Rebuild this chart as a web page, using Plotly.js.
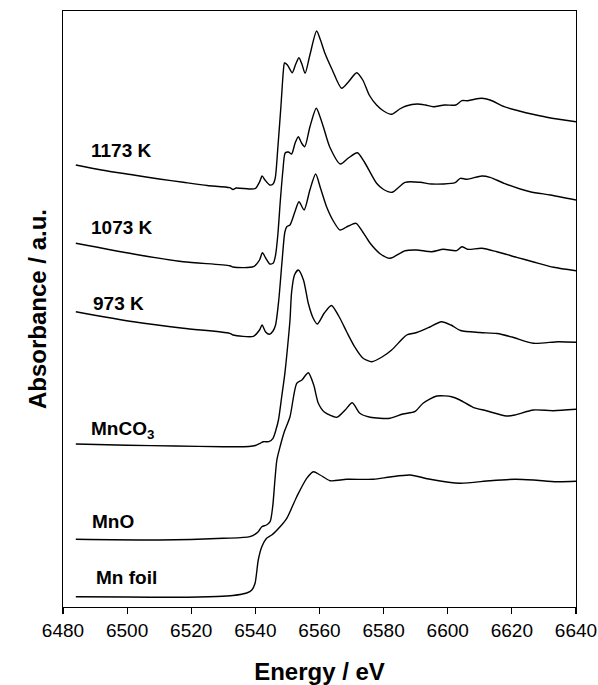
<!DOCTYPE html>
<html>
<head>
<meta charset="utf-8">
<script src="https://cdn.plot.ly/plotly-3.0.1.min.js"></script>
<style>html,body{margin:0;padding:0;background:#fff;}#chart{width:598px;height:685px;}</style>
</head>
<body>
<div id="chart"></div>
<script>
// Energies (eV) and normalized absorbance (a.u., stacked with offsets)
const e1173 = [6484,6492,6502,6510,6517.5,6525,6532,6533,6534,6538,6540,6541.3,6542.1,6543,6544.5,6545.5,6546.2,6547,6548,6548.7,6549.1,6550,6551.5,6552.6,6553.6,6554.6,6555.5,6557,6559.1,6560.3,6561.7,6564,6566.9,6569,6571.6,6573.5,6575.5,6577.8,6580,6582.5,6585,6587,6590.5,6593,6595.5,6599,6602.5,6604.4,6606.2,6608,6610.6,6613.2,6617.6,6622,6626.5,6632.5,6640];
const a1173 = [4.42,4.37,4.32,4.28,4.247,4.215,4.193,4.175,4.19,4.18,4.185,4.25,4.31,4.27,4.22,4.23,4.29,4.59,5.02,5.35,5.44,5.42,5.343,5.43,5.493,5.42,5.337,5.52,5.76,5.67,5.537,5.37,5.187,5.25,5.343,5.27,5.12,5.02,4.96,4.927,4.98,5.01,5.03,5.02,5.003,5.02,5.02,5.063,5.063,5.075,5.087,5.07,5.003,4.963,4.927,4.887,4.853];

const e1073 = [6484,6502,6517.5,6532,6533,6539.4,6541.3,6542.2,6543.2,6544.5,6545.6,6546.3,6547,6547.8,6548.6,6549.3,6550.3,6551.3,6552.4,6553.4,6554.4,6555.4,6557,6559,6560.3,6561.5,6563.2,6566.5,6569,6571.8,6574,6577.8,6580,6582.6,6586.7,6591.4,6595,6602.3,6603.9,6606,6610.6,6613.2,6617.6,6625.7,6632,6640];
const a1073 = [3.637,3.53,3.453,3.413,3.40,3.403,3.47,3.543,3.49,3.43,3.44,3.52,3.72,4.07,4.37,4.54,4.55,4.53,4.64,4.703,4.64,4.603,4.80,4.987,4.89,4.77,4.60,4.43,4.49,4.543,4.45,4.237,4.175,4.147,4.247,4.247,4.23,4.243,4.287,4.277,4.31,4.297,4.237,4.153,4.12,4.07];

const e973 = [6484,6502,6517.5,6532,6533,6539.4,6541.3,6542.1,6543.2,6544.4,6545.5,6546.3,6547.3,6548.3,6549.2,6549.8,6550.8,6552.3,6553.6,6555.2,6557,6558.8,6560.3,6562.2,6564.5,6566.4,6569,6571.4,6573.5,6575.8,6579,6582,6586.7,6590.3,6595,6598.6,6602.8,6604.4,6606.2,6610.6,6615.3,6621.5,6626.5,6633,6640];
const a973 = [2.953,2.853,2.787,2.737,2.72,2.707,2.77,2.82,2.75,2.727,2.76,2.82,3.07,3.45,3.75,3.803,3.82,3.95,4.053,3.97,4.17,4.33,4.19,4.003,3.85,3.77,3.81,3.837,3.75,3.637,3.53,3.487,3.563,3.57,3.553,3.577,3.563,3.603,3.577,3.587,3.553,3.497,3.453,3.397,3.363];

const eMnCO3 = [6484,6500,6515,6530,6538,6540,6541.5,6542.5,6544.2,6545.5,6546.4,6547.2,6548.2,6549.2,6550.1,6550.8,6551.3,6552.2,6553.4,6555,6556.5,6558,6559.3,6561.5,6563.7,6566,6568.5,6571,6573.5,6576.3,6579.5,6582.5,6585.5,6587.2,6590.3,6594.4,6598,6601,6604,6610,6615.4,6620,6626.7,6634.5,6640];
const aMnCO3 = [1.63,1.617,1.61,1.603,1.605,1.615,1.637,1.653,1.653,1.687,1.77,1.87,2.10,2.337,2.62,2.87,3.15,3.32,3.37,3.27,3.037,2.89,2.83,2.94,3.015,2.91,2.75,2.60,2.49,2.453,2.50,2.57,2.67,2.72,2.745,2.80,2.853,2.82,2.765,2.745,2.735,2.70,2.637,2.653,2.647];

const eMnO = [6484,6510,6530,6538.3,6540.9,6542,6543.5,6544.6,6545.4,6546.1,6546.7,6547.7,6549,6550.8,6552.9,6554.5,6556.5,6558.2,6559.6,6561.5,6565.4,6568,6570.2,6572.6,6575.8,6582,6586,6589.7,6592.3,6596.6,6601.2,6603.8,6607.9,6612,6618.3,6620.9,6626.7,6632.9,6640];
const aMnO = [0.677,0.67,0.687,0.703,0.753,0.803,0.82,0.853,1.003,1.27,1.47,1.603,1.75,1.903,2.237,2.27,2.343,2.22,2.04,1.95,1.897,1.97,2.043,1.937,1.897,1.887,1.93,1.953,2.037,2.11,2.103,2.07,1.997,1.963,1.91,1.92,1.97,1.963,1.977];

const eMn = [6484,6500,6515,6528,6533,6537.3,6538.9,6539.9,6540.9,6542,6543.5,6545.1,6547.7,6549.8,6552.9,6556,6558.1,6560.2,6563.3,6568.5,6576.8,6582,6588.2,6594.5,6603.8,6613.2,6621,6626.7,6634,6640];
const aMn = [0.103,0.10,0.097,0.105,0.115,0.14,0.17,0.237,0.47,0.603,0.687,0.72,0.803,0.887,1.103,1.287,1.353,1.32,1.263,1.277,1.277,1.30,1.32,1.277,1.237,1.263,1.277,1.27,1.253,1.257];

const seriesNames = ["1173 K","1073 K","973 K","MnCO<sub>3</sub>","MnO","Mn foil"];
const seriesE = [e1173,e1073,e973,eMnCO3,eMnO,eMn];
const seriesA = [a1173,a1073,a973,aMnCO3,aMnO,aMn];
// label anchor positions (energy, a.u.)
const labelE = [6488.2,6488.2,6488.8,6488.2,6488.5,6489.6];
const labelA = [4.57,3.80,3.04,1.77,0.86,0.30];
const xTicks = [6480,6500,6520,6540,6560,6580,6600,6620,6640];

const traces = seriesE.map((e,i)=>({
  x:e, y:seriesA[i], type:'scatter', mode:'lines', name:seriesNames[i],
  line:{color:'#000', width:1.4, shape:'spline', smoothing:0.7},
  hoverinfo:'skip', showlegend:false
}));

const annotations = seriesNames.map((n,i)=>({
  x:labelE[i], y:labelA[i], xref:'x', yref:'y', text:'<b>'+n+'</b>',
  showarrow:false, xanchor:'left', yanchor:'middle',
  font:{family:'Arial, Liberation Sans, sans-serif', size:19, color:'#000'}
}));

const layout = {
  width:598, height:685,
  margin:{l:63, r:22, t:11, b:78},
  paper_bgcolor:'#fff', plot_bgcolor:'#fff',
  font:{family:'Arial, Liberation Sans, sans-serif', color:'#000'},
  xaxis:{
    range:[6480,6640], tickvals:xTicks, ticktext:xTicks.map(String),
    ticks:'outside', ticklen:6, tickwidth:1.2, tickcolor:'#000',
    showline:true, linecolor:'#000', linewidth:1.4, mirror:true,
    showgrid:false, zeroline:false,
    tickfont:{size:19, color:'#000'},
    title:{text:'<b>Energy / eV</b>', font:{size:24, color:'#000'}, standoff:26}
  },
  yaxis:{
    range:[0,5.96], showticklabels:false, ticks:'',
    showline:true, linecolor:'#000', linewidth:1.4, mirror:true,
    showgrid:false, zeroline:false,
    title:{text:'<b>Absorbance / a.u.</b>', font:{size:24, color:'#000'}, standoff:8}
  },
  annotations:annotations,
  showlegend:false
};

Plotly.newPlot('chart', traces, layout, {staticPlot:true, displayModeBar:false});
</script>
</body>
</html>
